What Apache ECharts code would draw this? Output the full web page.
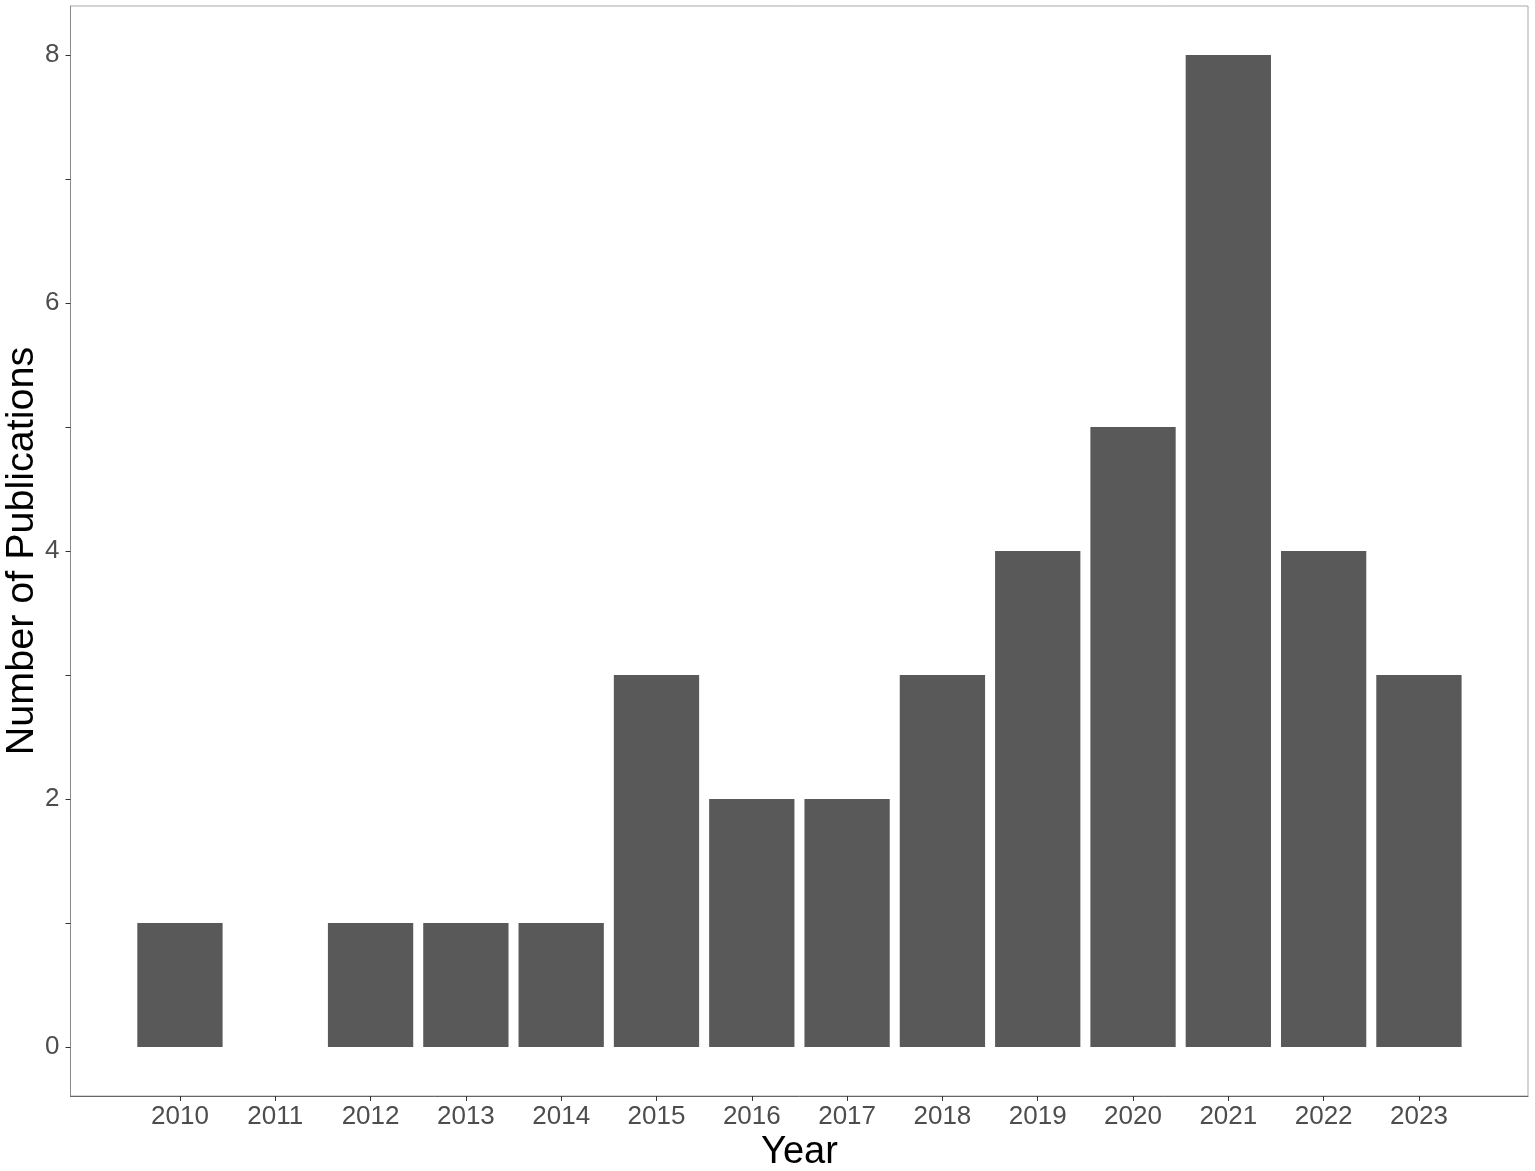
<!DOCTYPE html>
<html><head><meta charset="utf-8">
<script src="https://cdn.jsdelivr.net/npm/echarts@6/dist/echarts.min.js"></script>
<style>html,body{margin:0;padding:0;background:#fff}#c{width:1535px;height:1171px}</style>
</head><body><div id="c"></div>
<script>
const years = ['2010','2011','2012','2013','2014','2015','2016','2017','2018','2019','2020','2021','2022','2023'];
const publications = [1,0,1,1,1,3,2,2,3,4,5,8,4,3];
const yMin = 0, yMax = 8, yStep = 2;

const chart = echarts.init(document.getElementById('c'), null, {renderer:'canvas'});
const font = 'Liberation Sans, Arial, sans-serif';
chart.setOption({
  animation:false,
  backgroundColor:'#fff',
  grid:[
    {left:132.3, width:1334.3, top:55, bottom:124, containLabel:false, outerBoundsMode:'none'},
    {left:70.5, right:7, top:6, bottom:75, show:true, borderColor:'#a8a8a8', borderWidth:1, backgroundColor:'transparent', containLabel:false, outerBoundsMode:'none'}
  ],
  xAxis:[
    {type:'category', gridIndex:0, data:years, offset:49,
     name:'Year', nameLocation:'middle', nameGap:38, nameMoveOverlap:false,
     nameTextStyle:{fontFamily:font, fontSize:38, color:'#000'},
     axisLine:{show:true, onZero:false, lineStyle:{color:'rgba(0,0,0,0)', width:1}},
     axisTick:{show:true, alignWithLabel:true, length:5, lineStyle:{color:'#333'}},
     axisLabel:{fontFamily:font, fontSize:26, color:'#4d4d4d', margin:8, interval:0},
     splitLine:{show:false}},
    {type:'value', gridIndex:1, min:0, max:1,
     axisLine:{show:true, onZero:false, lineStyle:{color:'#666', width:1}},
     axisTick:{show:false}, axisLabel:{show:false}, splitLine:{show:false}}
  ],
  yAxis:[
    {type:'value', gridIndex:0, min:yMin, max:yMax, interval:yStep, offset:61.8,
     name:'Number of Publications', nameLocation:'middle', nameGap:28, nameMoveOverlap:false,
     nameTextStyle:{fontFamily:font, fontSize:39.5, color:'#000'},
     axisLine:{show:true, onZero:false, lineStyle:{color:'rgba(0,0,0,0)', width:1}},
     axisTick:{show:true, length:5, lineStyle:{color:'#333'}},
     minorTick:{show:true, splitNumber:2, length:5, lineStyle:{color:'#333'}},
     axisLabel:{fontFamily:font, fontSize:26, color:'#4d4d4d', margin:11},
     splitLine:{show:false}},
    {type:'value', gridIndex:1, min:0, max:1,
     axisLine:{show:true, onZero:false, lineStyle:{color:'#8a8a8a', width:1}},
     axisTick:{show:false}, axisLabel:{show:false}, splitLine:{show:false}}
  ],
  series:[{
    type:'bar', xAxisIndex:0, yAxisIndex:0, data:publications,
    barWidth:'89.5%', itemStyle:{color:'#595959'}
  }]
});
</script></body></html>
